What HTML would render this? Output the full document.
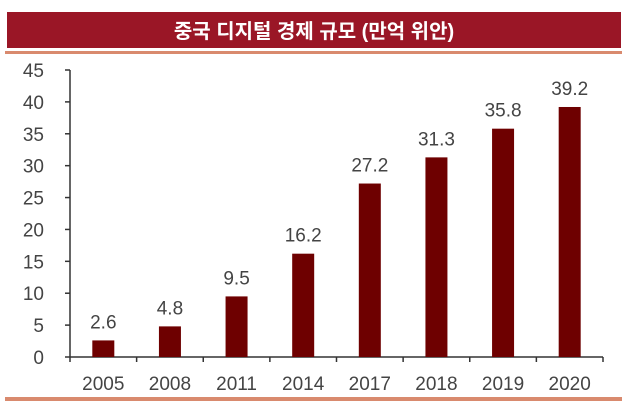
<!DOCTYPE html>
<html><head><meta charset="utf-8"><style>
body{margin:0;background:#fff;width:630px;height:402px;overflow:hidden}
svg{display:block;font-family:"Liberation Sans","Noto Sans CJK KR",sans-serif}
</style></head><body>
<svg id="c" width="630" height="402">
<rect x="7" y="12" width="614" height="36" fill="#9a1626"/>
<text x="314" y="38" text-anchor="middle" fill="#fff" font-size="20" font-weight="bold">중국 디지털 경제 규모 (만억 위안)</text>
<rect x="5" y="51" width="617" height="3" fill="#d98a6e"/>
<rect x="5" y="397" width="617" height="4" fill="#d98a6e"/>
<g id="g"></g>
</svg>
<script>
const categories=["2005","2008","2011","2014","2017","2018","2019","2020"];
const values=[2.6,4.8,9.5,16.2,27.2,31.3,35.8,39.2];
const labels=["2.6","4.8","9.5","16.2","27.2","31.3","35.8","39.2"];
const yTicks=[0,5,10,15,20,25,30,35,40,45];
const ns="http://www.w3.org/2000/svg",g=document.getElementById('g');
const x0=70,x1=603,y0=357,y1=70,ymax=45;
const y=v=>y0-(v/ymax)*(y0-y1);
const bw=(x1-x0)/categories.length;
function el(t,a){const e=document.createElementNS(ns,t);for(const k in a)e.setAttribute(k,a[k]);g.appendChild(e);return e;}
let ax=el('line',{x1:x0,y1:y(45),x2:x0,y2:y0,stroke:'#333','stroke-width':1.5});


let xa=el('line',{x1:x0,y1:y0,x2:x1,y2:y0,stroke:'#333','stroke-width':1.5});


yTicks.forEach(v=>{
 let t=el('line',{x1:x0-5,y1:y(v),x2:x0,y2:y(v),stroke:'#333','stroke-width':1.5});
 
 
 let l=el('text',{x:x0-26,y:y(v)+7,'text-anchor':'end','font-size':19,fill:'#444'});
 l.textContent=v;
 
 
});
for(let i=0;i<=categories.length;i++){
 let t=el('line',{x1:x0+i*bw,y1:y0,x2:x0+i*bw,y2:y0+5,stroke:'#333','stroke-width':1.5});
 
 
}
categories.forEach((c,i)=>{
 const cx=x0+bw*(i+0.5);
 let b=el('rect',{x:cx-11,y:y(values[i]),width:22,height:y0-y(values[i]),fill:'#6e0000'});
 
 
 let v=el('text',{x:cx,y:y(values[i])-12,'text-anchor':'middle','font-size':19,fill:'#444'});
 v.textContent=labels[i];
 
 
 let l=el('text',{x:cx,y:390,'text-anchor':'middle','font-size':19,fill:'#444'});
 l.textContent=c;
 
 
});
</script>
</body></html>
